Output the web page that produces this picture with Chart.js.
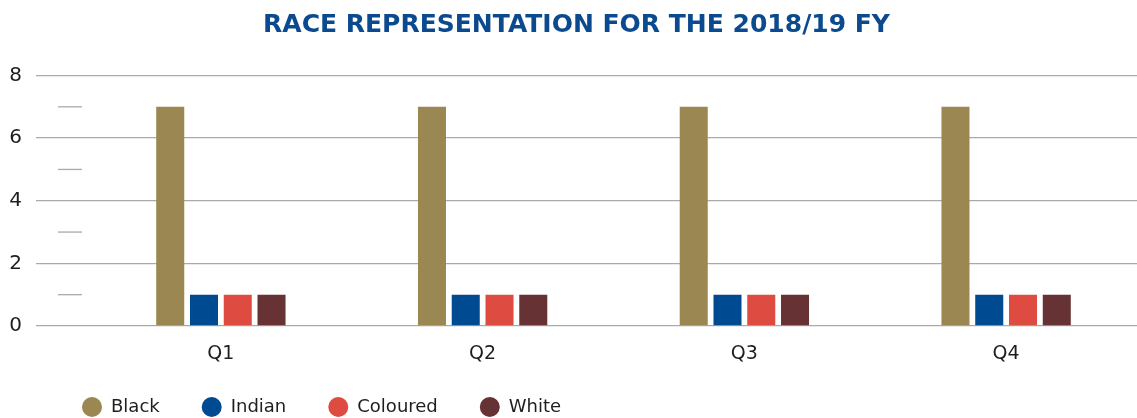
<!DOCTYPE html>
<html>
<head>
<meta charset="utf-8">
<title>Race representation</title>
<script src="https://cdn.jsdelivr.net/npm/chart.js@4/dist/chart.umd.min.js"></script>
<style>
  html, body { margin: 0; padding: 0; background: #fff; }
  #wrap { width: 1137px; height: 418px; }
</style>
</head>
<body>
<div id="wrap"><canvas id="raceChart"></canvas></div>
<script>
'use strict';

const quarters = ['Q1', 'Q2', 'Q3', 'Q4'];
const black = [7, 7, 7, 7];
const indian = [1, 1, 1, 1];
const coloured = [1, 1, 1, 1];
const white = [1, 1, 1, 1];
const minorTicks = [1, 3, 5, 7];

const GRID = '#aaaaaa';
const TEXT = '#1e1e1e';
const FONT = "'DejaVu Sans', sans-serif";

// short dashes beside the axis at the odd values
const minorTickPlugin = {
  id: 'minorTicks',
  afterDraw(chart) {
    const y = chart.scales.y;
    const left = chart.chartArea.left;
    const ctx = chart.ctx;
    ctx.save();
    ctx.strokeStyle = GRID;
    ctx.lineWidth = 1.3;
    minorTicks.forEach((v) => {
      const py = y.getPixelForValue(v);
      ctx.beginPath();
      ctx.moveTo(left - 32, py);
      ctx.lineTo(left - 8, py);
      ctx.stroke();
    });
    ctx.restore();
  },
};

// legend sits indented under the axis and tucked up close to the quarter labels;
// title is centred a little right of the canvas middle
const boxNudgePlugin = {
  id: 'boxNudge',
  afterLayout(chart) {
    if (chart.legend) {
      chart.legend.left += 40;
      chart.legend.top -= 10;
    }
    if (chart.titleBlock) {
      chart.titleBlock.left += 16;
    }
  },
};

const ds = (label, data, color) => ({
  label,
  data,
  backgroundColor: color,
  borderWidth: 0,
  categoryPercentage: 0.516,
  barPercentage: 0.83,
});

new Chart(document.getElementById('raceChart'), {
  type: 'bar',
  data: {
    labels: quarters,
    datasets: [
      ds('Black', black, '#9a8752'),
      ds('Indian', indian, '#004a91'),
      ds('Coloured', coloured, '#de4b40'),
      ds('White', white, '#663234'),
    ],
  },
  options: {
    animation: false,
    responsive: true,
    maintainAspectRatio: false,
    layout: { padding: { left: 0, right: 0, top: 0, bottom: -18 } },
    plugins: {
      title: {
        display: true,
        text: 'RACE REPRESENTATION FOR THE 2018/19 FY',
        color: '#0b4a8e',
        font: { family: FONT, size: 25, weight: 'bold' },
        padding: { top: 10, bottom: 35.5 },
      },
      legend: {
        position: 'bottom',
        align: 'start',
        labels: {
          usePointStyle: true,
          pointStyle: 'circle',
          boxHeight: 14,
          pointStyleWidth: 20,
          padding: 42,
          color: TEXT,
          font: { family: FONT, size: 18 },
        },
      },
      tooltip: { enabled: false },
    },
    scales: {
      x: {
        grid: { display: false, drawTicks: false },
        border: { display: false },
        ticks: { color: TEXT, padding: 17, font: { family: FONT, size: 19 } },
        afterFit: (scale) => { scale.height = 40; },
      },
      y: {
        min: 0,
        max: 8,
        grid: {
          color: (c) => (c.tick && c.tick.value % 2 === 0 ? GRID : 'rgba(0,0,0,0)'),
          tickColor: (c) => (c.tick && c.tick.value % 2 === 0 ? GRID : 'rgba(0,0,0,0)'),
          tickLength: 54,
          lineWidth: 1.3,
        },
        border: { display: false },
        ticks: {
          stepSize: 1,
          padding: 14,
          color: TEXT,
          font: { family: FONT, size: 20 },
          callback: (v) => (v % 2 === 0 ? v : ''),
        },
        afterFit: (scale) => { scale.width = 90; },
      },
    },
  },
  plugins: [minorTickPlugin, boxNudgePlugin],
});
</script>
</body>
</html>
